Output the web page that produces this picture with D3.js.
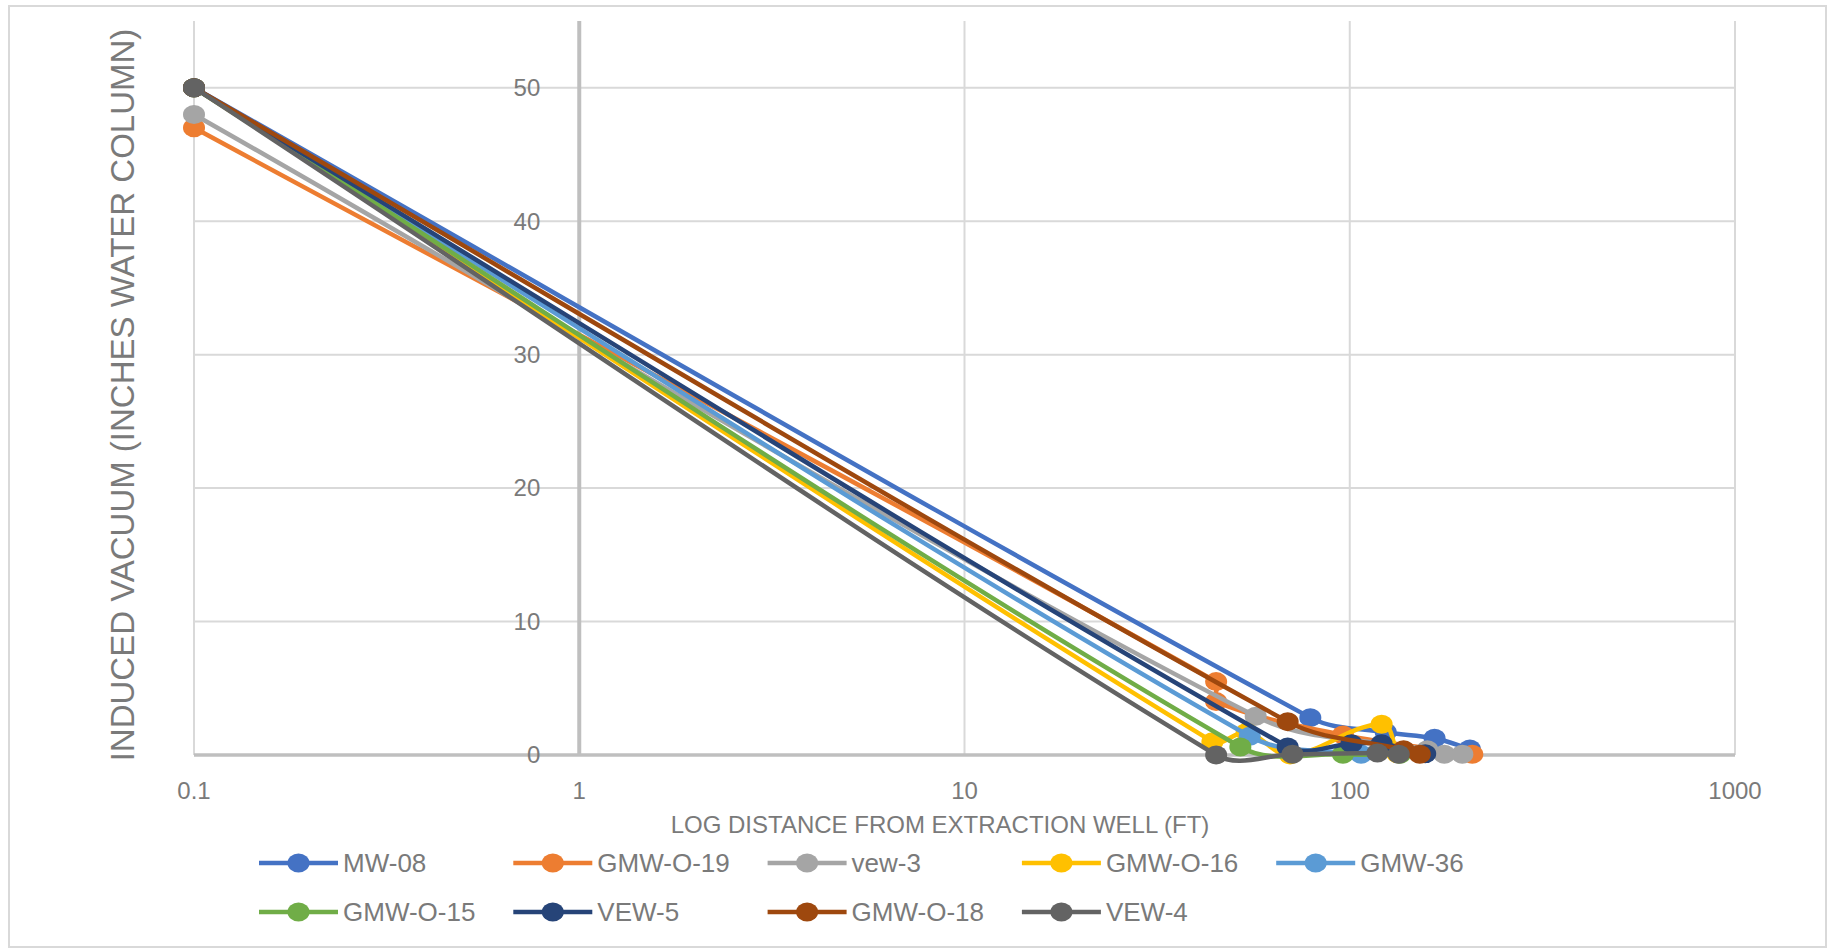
<!DOCTYPE html>
<html>
<head>
<meta charset="utf-8">
<script src="https://cdn.jsdelivr.net/npm/d3@7"></script>
<style>
  html, body { margin: 0; padding: 0; background: #fff; }
  svg text { font-family: "Liberation Sans", Arial, sans-serif; fill: #7a7a7a; }
</style>
</head>
<body>
<div id="chart"></div>
<script>
// series values: [distance ft, vacuum in. w.c.]
const seriesNames = ["MW-08", "GMW-O-19", "vew-3", "GMW-O-16", "GMW-36", "GMW-O-15", "VEW-5", "GMW-O-18", "VEW-4"];
const seriesColors = ["#4472c4", "#ed7d31", "#a5a5a5", "#ffc000", "#5b9bd5", "#70ad47", "#264478", "#9e480e", "#636363"];

const mw08 = [[0.1, 50], [79, 2.8], [124, 1.7], [166, 1.25], [205, 0.45]];
const gmwO19 = [[0.1, 47], [45, 5.5], [45, 4.0], [96, 1.5], [208, 0.05]];
const vew3 = [[0.1, 48], [57, 2.9], [159, 0.4], [176, 0.05], [196, 0.05]];
const gmwO16 = [[0.1, 50], [44, 1.0], [54, 1.7], [70, 0.0], [121, 2.3], [133, 0.1]];
const gmw36 = [[0.1, 50], [55, 1.4], [107, 0.05]];
const gmwO15 = [[0.1, 50], [52, 0.6], [96, 0.05], [135, 0.05]];
const vew5 = [[0.1, 50], [69, 0.6], [101, 0.85], [121, 0.85], [157, 0.1]];
const gmwO18 = [[0.1, 50], [69, 2.5], [138, 0.4], [152, 0.05]];
const vew4 = [[0.1, 50], [45, 0.0], [71, 0.05], [118, 0.15], [134, 0.05]];

const seriesValues = [mw08, gmwO19, vew3, gmwO16, gmw36, gmwO15, vew5, gmwO18, vew4];

const xTicks = [0.1, 1, 10, 100, 1000];
const yTicks = [0, 10, 20, 30, 40, 50];

const width = 1829;
const height = 951;
const plot = { left: 194, right: 1735, top: 21, bottom: 755 };

const svg = d3.select("#chart")
  .append("svg")
  .attr("width", width)
  .attr("height", height);

// outer chart border
svg.append("rect")
  .attr("x", 9)
  .attr("y", 6)
  .attr("width", 1817)
  .attr("height", 941)
  .attr("fill", "#fff")
  .attr("stroke", "#d9d9d9")
  .attr("stroke-width", 2);

const x = d3.scaleLog().domain([0.1, 1000]).range([plot.left, plot.right]);
const y = d3.scaleLinear().domain([0, 55]).range([plot.bottom, plot.top]);

// gridlines
svg.append("g")
  .selectAll("line")
  .data(yTicks.filter((d) => d > 0))
  .join("line")
  .attr("x1", plot.left)
  .attr("x2", plot.right)
  .attr("y1", (d) => y(d))
  .attr("y2", (d) => y(d))
  .attr("stroke", "#d9d9d9")
  .attr("stroke-width", 2);

svg.append("g")
  .selectAll("line")
  .data(xTicks.filter((d) => d !== 1))
  .join("line")
  .attr("x1", (d) => x(d))
  .attr("x2", (d) => x(d))
  .attr("y1", plot.top)
  .attr("y2", plot.bottom)
  .attr("stroke", "#d9d9d9")
  .attr("stroke-width", 2);

// axes: value axis crosses at x = 1
svg.append("line")
  .attr("x1", x(1))
  .attr("x2", x(1))
  .attr("y1", plot.top)
  .attr("y2", plot.bottom)
  .attr("stroke", "#bfbfbf")
  .attr("stroke-width", 4);

svg.append("line")
  .attr("x1", plot.left)
  .attr("x2", plot.right)
  .attr("y1", y(0))
  .attr("y2", y(0))
  .attr("stroke", "#bfbfbf")
  .attr("stroke-width", 3.5);

// tick labels
svg.append("g")
  .selectAll("text")
  .data(yTicks)
  .join("text")
  .attr("x", x(1) - 39)
  .attr("y", (d) => y(d))
  .attr("dy", "0.35em")
  .attr("text-anchor", "end")
  .attr("font-size", 24)
  .text((d) => d);

svg.append("g")
  .selectAll("text")
  .data(xTicks)
  .join("text")
  .attr("x", (d) => x(d))
  .attr("y", 791)
  .attr("dy", "0.35em")
  .attr("text-anchor", "middle")
  .attr("font-size", 24)
  .text((d) => d);

// axis titles
svg.append("text")
  .attr("x", 940)
  .attr("y", 825)
  .attr("dy", "0.35em")
  .attr("text-anchor", "middle")
  .attr("font-size", 24)
  .text("LOG DISTANCE FROM EXTRACTION WELL (FT)");

svg.append("text")
  .attr("transform", "translate(122,395) rotate(-90)")
  .attr("dy", "0.35em")
  .attr("text-anchor", "middle")
  .attr("font-size", 33)
  .attr("fill", "#737373")
  .text("INDUCED VACUUM (INCHES WATER COLUMN)");

// smoothed line like the spreadsheet's: tangent = direction of the neighbours,
// handle length = a third of each segment, so long legs stay straight
function smoothPath(values) {
  const pts = values.map((d) => [x(d[0]), y(d[1])]);
  const n = pts.length;
  const unit = (a, b) => {
    const dx = b[0] - a[0];
    const dy = b[1] - a[1];
    const len = Math.hypot(dx, dy) || 1;
    return [dx / len, dy / len];
  };
  const tangent = (i) => {
    if (i === 0) return unit(pts[0], pts[1]);
    if (i === n - 1) return unit(pts[n - 2], pts[n - 1]);
    return unit(pts[i - 1], pts[i + 1]);
  };
  const path = d3.path();
  path.moveTo(pts[0][0], pts[0][1]);
  for (let i = 0; i < n - 1; i++) {
    const p0 = pts[i];
    const p1 = pts[i + 1];
    const len = Math.hypot(p1[0] - p0[0], p1[1] - p0[1]) / 3;
    const t0 = tangent(i);
    const t1 = tangent(i + 1);
    path.bezierCurveTo(
      p0[0] + t0[0] * len, p0[1] + t0[1] * len,
      p1[0] - t1[0] * len, p1[1] - t1[1] * len,
      p1[0], p1[1]
    );
  }
  return path.toString();
}

const series = svg.append("g")
  .selectAll("g")
  .data(seriesValues)
  .join("g");

series.append("path")
  .attr("d", (d) => smoothPath(d))
  .attr("fill", "none")
  .attr("stroke", (_, i) => seriesColors[i])
  .attr("stroke-width", 4.5)
  .attr("stroke-linejoin", "round");

series.each(function (values, i) {
  d3.select(this)
    .selectAll("ellipse")
    .data(values)
    .join("ellipse")
    .attr("cx", (d) => x(d[0]))
    .attr("cy", (d) => y(d[1]))
    .attr("rx", 11)
    .attr("ry", 9.5)
    .attr("fill", seriesColors[i]);
});

// legend
const legend = svg.append("g")
  .selectAll("g")
  .data(seriesNames)
  .join("g")
  .attr("transform", (_, i) => `translate(${259 + (i % 5) * 254.3},${i < 5 ? 863 : 912})`);

legend.append("line")
  .attr("x1", 0)
  .attr("x2", 79)
  .attr("stroke", (_, i) => seriesColors[i])
  .attr("stroke-width", 4.5);

legend.append("ellipse")
  .attr("cx", 39.5)
  .attr("rx", 11)
  .attr("ry", 9.5)
  .attr("fill", (_, i) => seriesColors[i]);

legend.append("text")
  .attr("x", 84)
  .attr("dy", "0.35em")
  .attr("font-size", 26)
  .text((d) => d);
</script>
</body>
</html>
